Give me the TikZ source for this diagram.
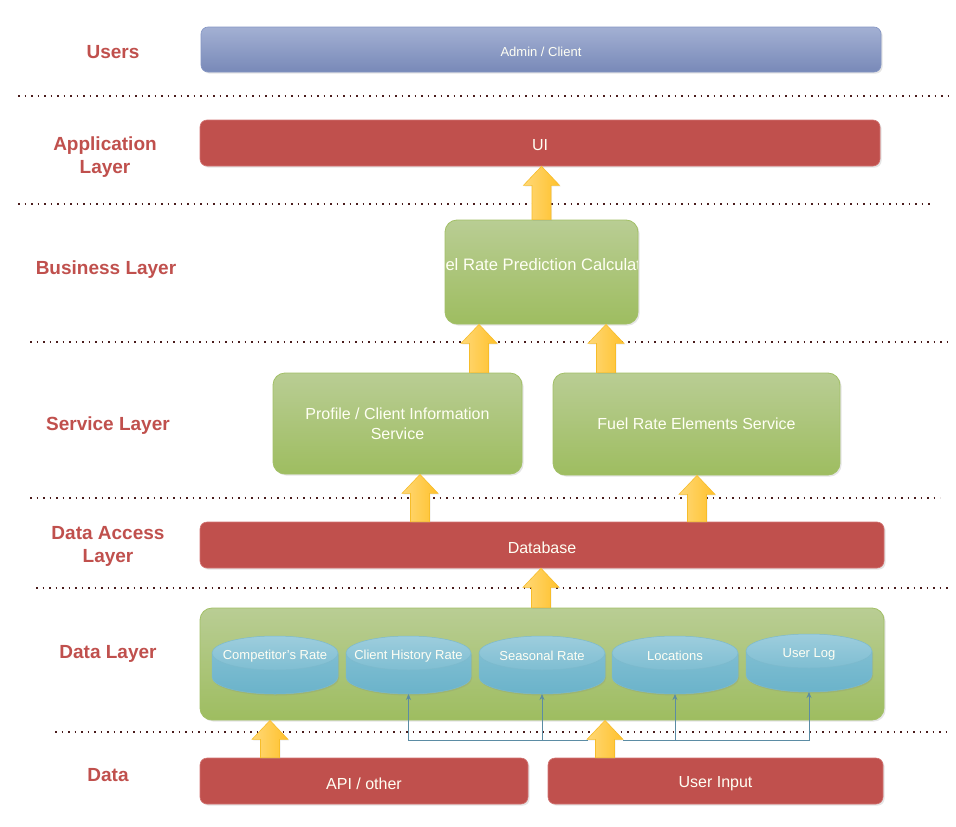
\documentclass[tikz,border=0pt]{standalone}
\usepackage{fontspec}
\setmainfont{Liberation Sans}
\usetikzlibrary{calc,shadows,arrows.meta}
\definecolor{lblc}{HTML}{C0504D}
\definecolor{redf}{HTML}{C0504D}
\definecolor{redl}{HTML}{D27472}
\definecolor{gtop}{HTML}{B9CD94}
\definecolor{gbot}{HTML}{9EBD60}
\definecolor{gline}{HTML}{A2C066}
\definecolor{btop}{HTML}{A3B0D3}
\definecolor{bbot}{HTML}{7889B8}
\definecolor{bline}{HTML}{8596C4}
\definecolor{ctop}{HTML}{9DCDDD}
\definecolor{cmid}{HTML}{7FBED2}
\definecolor{cbot}{HTML}{6BB3CA}
\definecolor{cline}{HTML}{7DBACD}
\definecolor{otl}{HTML}{FFD877}
\definecolor{otr}{HTML}{FFC12B}
\definecolor{oline}{HTML}{F7BD2A}
\definecolor{dotc}{HTML}{4A1C1C}
\definecolor{thinc}{HTML}{5B8CA4}
\definecolor{boxtxt}{HTML}{FFFFF4}
\newcommand\blockup[2]{%
  \path[blockarr] let \p1=(#1), \p2=(#2) in
    (\x1-9.5pt,\y1) -- (\x1-9.5pt,\y2-19pt) -- (\x1-18pt,\y2-19pt) -- (\x1,\y2)
    -- (\x1+18pt,\y2-19pt) -- (\x1+9.5pt,\y2-19pt) -- (\x1+9.5pt,\y1) -- cycle;}
\newcommand\dbcyl[5]{%
  \pgfmathsetmacro\cylcx{(#2+#3)/2}\pgfmathsetmacro\cylrx{(#3-#2)/2}%
  \path[cylbody] (#2,#4+17) -- (#2,#4+41)
    arc[start angle=180,end angle=360,x radius=\cylrx pt,y radius=17pt]
    -- (#3,#4+17) -- cycle;
  \path[cyltop] (\cylcx,#4+17) ellipse[x radius=\cylrx pt,y radius=17pt];
  \node[cyltext] (#1) at (\cylcx,#4+20) {#5};
  \coordinate (#1b) at (\cylcx,#4+58);}
\begin{document}
\begin{tikzpicture}[x=1pt,y=-1pt,
  layerlbl/.style={text=lblc,font=\bfseries\fontsize{19}{23}\selectfont,align=center},
  sep/.style={draw=dotc,line width=1.1pt,dash pattern=on 1.6pt off 4.9pt},
  shad/.style={drop shadow={shadow xshift=1.6pt,shadow yshift=-1.6pt,opacity=.22,fill=black!45}},
  basebox/.style={inner sep=0pt,text=boxtxt,align=center,shad},
  redbox/.style={basebox,fill=redf,draw=redl,line width=0.6pt,rounded corners=7pt,
     font=\fontsize{16}{20}\selectfont},
  greenbox/.style={basebox,top color=gtop,bottom color=gbot,draw=gline,line width=0.8pt,
     rounded corners=12pt,font=\fontsize{16}{20}\selectfont},
  bluebox/.style={basebox,top color=btop,bottom color=bbot,draw=bline,line width=0.6pt,
     rounded corners=7pt,font=\fontsize{13}{16}\selectfont},
  cylbody/.style={top color=cmid,bottom color=cbot,draw=cline,line width=0.5pt,
     drop shadow={shadow xshift=1pt,shadow yshift=-1.5pt,opacity=.18,fill=black!50}},
  cyltop/.style={top color=ctop,bottom color=cmid,draw=cline,line width=0.5pt},
  cyltext/.style={text=boxtxt,font=\fontsize{13}{16}\selectfont,inner sep=0pt},
  blockarr/.style={left color=otl,right color=otr,draw=oline,line width=0.6pt,
     drop shadow={shadow xshift=1.2pt,shadow yshift=-1.2pt,opacity=.15,fill=black!40}},
  thinarr/.style={draw=thinc,line width=0.8pt,-{Stealth[length=6pt,width=5pt]}}]
\useasboundingbox (0,0) rectangle (956,827);
\fill[white] (0,0) rectangle (956,827);

% separators
\draw[sep] (18,96) -- (948,96);
\draw[sep] (18,204) -- (930,204);
\draw[sep] (30,342) -- (948,342);
\draw[sep] (30,498) -- (940,498);
\draw[sep] (36,588) -- (948,588);
\draw[sep] (55,732) -- (948,732);

% layer labels
\node[layerlbl] (lusers) at (113,52) {Users};
\node[layerlbl] (lapp) at (105,157.5) {Application\\Layer};
\node[layerlbl] (lbus) at (106,270) {Business Layer};
\node[layerlbl] (lserv) at (108,426) {Service Layer};
\node[layerlbl] (lacc) at (108,546.5) {Data Access\\Layer};
\node[layerlbl] (ldata) at (108,654) {Data Layer};
\node[layerlbl] (lsrc) at (108,775) {Data};

% boxes
\node[bluebox,minimum width=680pt,minimum height=45pt] (admin) at (541,49.5) {};
\node[text=boxtxt,font=\fontsize{13}{16}\selectfont] at (541,52) {Admin / Client};
\node[redbox,minimum width=680pt,minimum height=46pt] (ui) at (540,143) {};
\node[text=boxtxt,font=\fontsize{16}{20}\selectfont] at (540,145) {UI};
\node[greenbox,minimum width=193pt,minimum height=104pt] (calc) at (541.5,272) {};
\begin{scope}
  \clip ([xshift=1pt]calc.south west) rectangle ([xshift=-1pt]calc.north east);
  \node[text=boxtxt,font=\fontsize{16.6}{20}\selectfont] (calctxt) at (541,265) {Fuel Rate Prediction Calculator};
\end{scope}
\node[greenbox,minimum width=249pt,minimum height=101pt] (profile) at (397.5,423.5)
  {Profile / Client Information\\Service};
\node[greenbox,minimum width=287pt,minimum height=102pt] (fuel) at (696.5,424)
  {Fuel Rate Elements Service};
\node[redbox,minimum width=684pt,minimum height=46pt] (db) at (542,545) {};
\node[text=boxtxt,font=\fontsize{16}{20}\selectfont] at (542,548) {Database};
\node[greenbox,minimum width=684pt,minimum height=112pt] (datalayer) at (542,664) {};
\node[redbox,minimum width=328pt,minimum height=46pt] (api) at (364,781) {};
\node[text=boxtxt,font=\fontsize{16}{20}\selectfont] at (364,784) {API / other};
\node[redbox,minimum width=335pt,minimum height=46pt] (uinput) at (715.5,781) {};
\node[text=boxtxt,font=\fontsize{16}{20}\selectfont] at (715.5,784) {User Input};

% cylinders
\dbcyl{comp}{212}{338}{636}{Competitor's Rate}
\dbcyl{chist}{346}{471}{636}{Client History Rate}
\dbcyl{seas}{479}{605}{636}{Seasonal Rate}
\dbcyl{loc}{612}{738}{636}{Locations}
\dbcyl{ulog}{746}{872}{634}{User Log}

% thin connectors
\coordinate (gapL) at (588,740);
\coordinate (gapR) at (623,740);
\draw[thinarr] (gapL) -| (chistb);
\draw[thinarr] (gapL) -| (seasb);
\draw[thinarr] (gapR) -| (locb);
\draw[thinarr] (gapR) -| (ulogb);

% block arrows
\blockup{calc.north}{ui.south}
\blockup{479,0 |- profile.north}{479,0 |- calc.south}
\blockup{606,0 |- fuel.north}{606,0 |- calc.south}
\blockup{420,0 |- db.north}{420,0 |- profile.south}
\blockup{697,0 |- db.north}{697,0 |- fuel.south}
\blockup{541,0 |- datalayer.north}{541,0 |- db.south}
\blockup{270,0 |- api.north}{270,0 |- datalayer.south}
\blockup{605,0 |- uinput.north}{605,0 |- datalayer.south}
\end{tikzpicture}
\end{document}
